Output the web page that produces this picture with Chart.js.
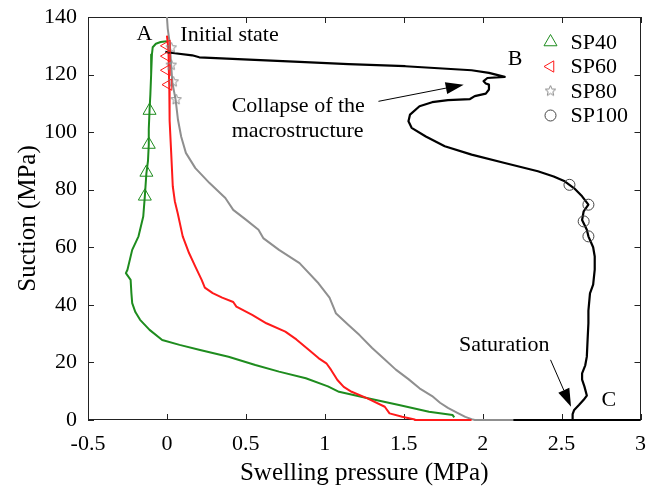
<!DOCTYPE html>
<html><head><meta charset="utf-8">
<script src="https://cdn.jsdelivr.net/npm/chart.js@4/dist/chart.umd.min.js"></script>
<style>html,body{margin:0;padding:0;background:#fff}canvas{display:block}</style>
</head><body>
<canvas id="c" width="649" height="493"></canvas>
<script>
// ---------- data ----------
const xTicks = [-0.5, 0, 0.5, 1, 1.5, 2, 2.5, 3];
const yTicks = [0, 20, 40, 60, 80, 100, 120, 140];
const seriesNames = ['SP40', 'SP60', 'SP80', 'SP100'];

const sp40X = [0.0,-0.04,-0.07,-0.09,-0.095,-0.10,-0.105,-0.11,-0.115,-0.115,-0.12,-0.13,-0.14,-0.15,-0.18,-0.22,-0.25,-0.26,-0.23,-0.225,-0.22,-0.20,-0.17,-0.11,-0.03,0.08,0.21,0.39,0.56,0.71,0.88,1.02,1.09,1.28,1.47,1.66,1.81,1.82];
const sp40Y = [131.6,131.3,130.7,129.5,127,120,113,107.8,101,95.7,90,85.8,77.7,70.7,63.8,59.1,52.2,51.0,48.7,44,40.6,37.5,34.8,31.3,27.8,26.1,24.3,22.0,19.1,16.8,14.5,11.7,9.8,7.5,5.2,2.9,1.7,0.9];

const sp60X = [0.0,0.005,0.01,0.012,0.015,0.016,0.018,0.027,0.037,0.05,0.068,0.10,0.14,0.18,0.22,0.24,0.29,0.35,0.42,0.44,0.54,0.63,0.75,0.82,0.90,0.96,1.01,1.04,1.08,1.12,1.17,1.27,1.38,1.41,1.49,1.57,1.57,1.93];
const sp60Y = [133.5,131,128,122,115,108,104,92.8,81.2,76,71.9,63.8,58.0,53.3,48.7,46,44.1,42.5,41.0,39.4,36.5,33.6,30.7,28,24.3,21.5,19.7,17.4,13.9,11.5,9.8,7.5,4.6,2.3,1.1,0.2,0,0];

const sp80X = [0.0,0.005,0.015,0.02,0.027,0.035,0.055,0.07,0.09,0.12,0.18,0.27,0.37,0.42,0.50,0.58,0.61,0.71,0.84,0.96,1.03,1.06,1.07,1.15,1.22,1.30,1.38,1.45,1.53,1.60,1.68,1.73,1.78,1.84,1.89,1.93,1.95,2.2];
const sp80Y = [140,136,132,129.3,123,117,111.3,104.3,98.5,92.8,87.5,82.3,77.1,73.0,69.6,66.1,63.2,59.1,54.5,47.5,42.5,38.5,37.1,33,29.5,25,21,17.5,14.2,11,8.3,6,4.2,2.5,1.1,0.3,0,0];

const sp100X = [-0.01,0.05,0.16,0.205,0.52,0.84,1.15,1.51,1.93,2.04,2.14,2.03,2.006,2.02,2.04,2.04,2.02,1.95,1.92,1.78,1.68,1.60,1.54,1.53,1.55,1.64,1.76,1.93,2.14,2.35,2.45,2.52,2.58,2.63,2.67,2.64,2.63,2.66,2.67,2.70,2.71,2.71,2.70,2.68,2.67,2.67,2.665,2.66,2.65,2.63,2.63,2.645,2.66,2.64,2.61,2.58,2.57,2.57,2.57,2.2,3.0];
const sp100Y = [127.9,127.4,126.7,126,125.2,124.4,123.6,122.9,121.5,120.6,119.2,118.8,117.7,116.9,116.5,114.8,113.4,112.5,111.5,111.1,110.4,109.0,106.1,103.8,101.5,98.5,95.1,92.2,89.3,86.4,84.6,82.9,80.5,77.7,74.8,72.5,69.5,66.1,63.8,60,56.8,52.2,47,44,38,33.6,28,22.0,19,16.2,14,11.6,8.5,7.0,5.2,3.5,2.0,0.3,0,0,0];

const sp40MarkX = [-0.11,-0.115,-0.13,-0.14];
const sp40MarkY = [107.5,95.7,86.0,77.7];
const sp60MarkX = [0.0,0.0,0.0,0.01];
const sp60MarkY = [130,126.4,121.5,116.5];
const sp80MarkX = [0.027,0.027,0.04,0.058];
const sp80MarkY = [129.3,123.3,117.5,111.3];
const sp100MarkX = [2.55,2.67,2.64,2.67];
const sp100MarkY = [81.7,74.8,69.0,63.8];

// ---------- helpers ----------
const pts = (xs, ys) => xs.map((x, i) => ({x: x, y: ys[i]}));
const SERIF = "'Liberation Serif', serif";
const COL = {g: '#1e8c1e', r: '#ff1a1a', k: '#000000', gr: '#8f8f8f', circ: '#444444', star: '#8a8a8a'};

function starCanvas(r, color) {
  const s = Math.ceil(r * 2 + 4);
  const c = document.createElement('canvas'); c.width = s; c.height = s;
  const g = c.getContext('2d'); g.strokeStyle = color; g.lineWidth = 1; g.beginPath();
  for (let i = 0; i < 10; i++) {
    const rr = i % 2 ? r * 0.45 : r;
    const a = -Math.PI / 2 + i * Math.PI / 5;
    const px = s / 2 + rr * Math.cos(a), py = s / 2 + rr * Math.sin(a);
    if (i) g.lineTo(px, py); else g.moveTo(px, py);
  }
  g.closePath(); g.stroke();
  return c;
}
const starImg = starCanvas(5.5, COL.star);

const markerSets = [
  {label: seriesNames[0], data: pts(sp40MarkX, sp40MarkY), color: COL.g, style: 'triangle', rot: 0, r: 7.5},
  {label: seriesNames[1], data: pts(sp60MarkX, sp60MarkY), color: COL.r, style: 'triangle', rot: -90, r: 6.5},
  {label: seriesNames[2], data: pts(sp80MarkX, sp80MarkY), color: COL.star, style: starImg, rot: 0, r: 5},
  {label: seriesNames[3], data: pts(sp100MarkX, sp100MarkY), color: COL.circ, style: 'circle', rot: 0, r: 5.5}
];

const datasets = [];
markerSets.forEach(m => datasets.push({
  label: m.label, data: m.data, showLine: false,
  pointStyle: m.style, rotation: m.rot, pointRadius: m.r,
  pointBorderColor: m.color, pointBackgroundColor: 'rgba(0,0,0,0)', pointBorderWidth: 1,
  clip: false
}));
const lineSets = [
  {label: seriesNames[3] + ' curve', data: pts(sp100X, sp100Y), color: COL.k, w: 2.2},
  {label: seriesNames[1] + ' curve', data: pts(sp60X, sp60Y), color: COL.r, w: 2},
  {label: seriesNames[0] + ' curve', data: pts(sp40X, sp40Y), color: COL.g, w: 2},
  {label: seriesNames[2] + ' curve', data: pts(sp80X, sp80Y), color: COL.gr, w: 2}
];
lineSets.forEach(l => datasets.push({
  label: l.label, data: l.data, showLine: true, borderColor: l.color, borderWidth: l.w,
  pointRadius: 0, tension: 0, fill: false, clip: false, borderJoinStyle: 'round'
}));

const annotations = [
  {text: 'A', x: -0.142, y: 134.0, align: 'center'},
  {text: 'Initial state', x: 0.085, y: 133.6, align: 'left'},
  {text: 'B', x: 2.206, y: 125.2, align: 'center'},
  {text: 'C', x: 2.80, y: 7.0, align: 'center'},
  {text: 'Collapse of the', x: 0.41, y: 109.0, align: 'left'},
  {text: 'macrostructure', x: 0.41, y: 100.3, align: 'left'},
  {text: 'Saturation', x: 1.85, y: 26.1, align: 'left'}
];
const arrows = [
  {x0: 1.34, y0: 110.7, x1: 1.88, y1: 116.5},
  {x0: 2.43, y0: 20.9, x1: 2.56, y1: 4.6}
];

function drawMarker(ctx, m, x, y) {
  ctx.save();
  ctx.strokeStyle = m.color; ctx.lineWidth = 1; ctx.fillStyle = 'rgba(0,0,0,0)';
  if (m.style === 'circle') {
    ctx.beginPath(); ctx.arc(x, y, m.r, 0, Math.PI * 2); ctx.stroke();
  } else if (m.style === 'triangle') {
    const rad = m.rot * Math.PI / 180; let a = rad;
    ctx.beginPath();
    for (let i = 0; i < 3; i++) {
      const px = x + Math.sin(a) * m.r, py = y - Math.cos(a) * m.r;
      if (i) ctx.lineTo(px, py); else ctx.moveTo(px, py);
      a += 2 * Math.PI / 3;
    }
    ctx.closePath(); ctx.stroke();
  } else {
    ctx.drawImage(m.style, x - m.style.width / 2, y - m.style.height / 2);
  }
  ctx.restore();
}

const framePlugin = {
  id: 'frame',
  beforeDatasetsDraw(chart) {
    const {ctx, chartArea: a, scales: {x, y}} = chart;
    ctx.save();
    ctx.strokeStyle = '#222'; ctx.lineWidth = 1;
    ctx.strokeRect(Math.round(a.left) + 0.5, Math.round(a.top) + 0.5,
      Math.round(a.right - a.left) - 1, Math.round(a.bottom - a.top) - 1);
    const L = 6;
    ctx.beginPath();
    x.ticks.forEach(t => {
      const px = Math.round(x.getPixelForValue(t.value)) + 0.5;
      ctx.moveTo(px, a.bottom); ctx.lineTo(px, a.bottom - L);
      ctx.moveTo(px, a.top); ctx.lineTo(px, a.top + L);
    });
    y.ticks.forEach(t => {
      const py = Math.round(y.getPixelForValue(t.value)) + 0.5;
      ctx.moveTo(a.left, py); ctx.lineTo(a.left + L, py);
      ctx.moveTo(a.right, py); ctx.lineTo(a.right - L, py);
    });
    ctx.stroke();
    ctx.restore();
  },
  afterDatasetsDraw(chart) {
    const {ctx, chartArea: a, scales: {x, y}} = chart;
    ctx.save();
    ctx.fillStyle = '#000';
    ctx.font = '22px ' + SERIF;
    ctx.textBaseline = 'middle';
    annotations.forEach(an => {
      ctx.textAlign = an.align;
      ctx.fillText(an.text, x.getPixelForValue(an.x), y.getPixelForValue(an.y));
    });
    arrows.forEach(ar => {
      const x0 = x.getPixelForValue(ar.x0), y0 = y.getPixelForValue(ar.y0);
      const x1 = x.getPixelForValue(ar.x1), y1 = y.getPixelForValue(ar.y1);
      const ang = Math.atan2(y1 - y0, x1 - x0);
      const hl = 18, hw = 6;
      const bx = x1 - Math.cos(ang) * hl, by = y1 - Math.sin(ang) * hl;
      ctx.strokeStyle = '#000'; ctx.lineWidth = 1;
      ctx.beginPath(); ctx.moveTo(x0, y0); ctx.lineTo(bx, by); ctx.stroke();
      ctx.beginPath();
      ctx.moveTo(x1, y1);
      ctx.lineTo(bx + Math.sin(ang) * hw, by - Math.cos(ang) * hw);
      ctx.lineTo(bx - Math.sin(ang) * hw, by + Math.cos(ang) * hw);
      ctx.closePath(); ctx.fill();
    });
    const lx = a.right - 90, ly0 = a.top + 25, dy = 24.5;
    ctx.textAlign = 'left';
    markerSets.forEach((m, i) => {
      const yy = ly0 + i * dy;
      drawMarker(ctx, m, lx, yy);
      ctx.fillStyle = '#000';
      ctx.fillText(m.label, lx + 20, yy + 1);
    });
    ctx.restore();
  }
};

new Chart(document.getElementById('c'), {
  type: 'scatter',
  data: {datasets: datasets},
  options: {
    responsive: false, animation: false, devicePixelRatio: 1,
    layout: {padding: {top: 17, right: -3, left: 0, bottom: 0}},
    plugins: {legend: {display: false}, tooltip: {enabled: false}},
    scales: {
      x: {
        type: 'linear', min: xTicks[0], max: xTicks[xTicks.length - 1],
        afterBuildTicks: s => { s.ticks = xTicks.map(v => ({value: v})); },
        afterFit: s => { s.height = 73; s.paddingLeft = 0; s.paddingRight = 0; },
        grid: {display: false}, border: {display: false},
        ticks: {color: '#000', padding: 3, font: {family: SERIF, size: 22}, maxRotation: 0,
          callback: v => String(v)},
        title: {display: true, text: 'Swelling pressure (MPa)', color: '#000',
          font: {family: SERIF, size: 25}, padding: {top: 0, bottom: 5}}
      },
      y: {
        type: 'linear', min: yTicks[0], max: yTicks[yTicks.length - 1],
        afterBuildTicks: s => { s.ticks = yTicks.map(v => ({value: v})); },
        afterFit: s => { s.width = 88; s.paddingTop = 0; s.paddingBottom = 0; },
        grid: {display: false}, border: {display: false},
        ticks: {color: '#000', padding: 3, font: {family: SERIF, size: 22},
          callback: v => String(v)},
        title: {display: true, text: 'Suction (MPa)', color: '#000',
          font: {family: SERIF, size: 25}, padding: {top: 13, bottom: 0}}
      }
    }
  },
  plugins: [framePlugin]
});
</script>
</body></html>
